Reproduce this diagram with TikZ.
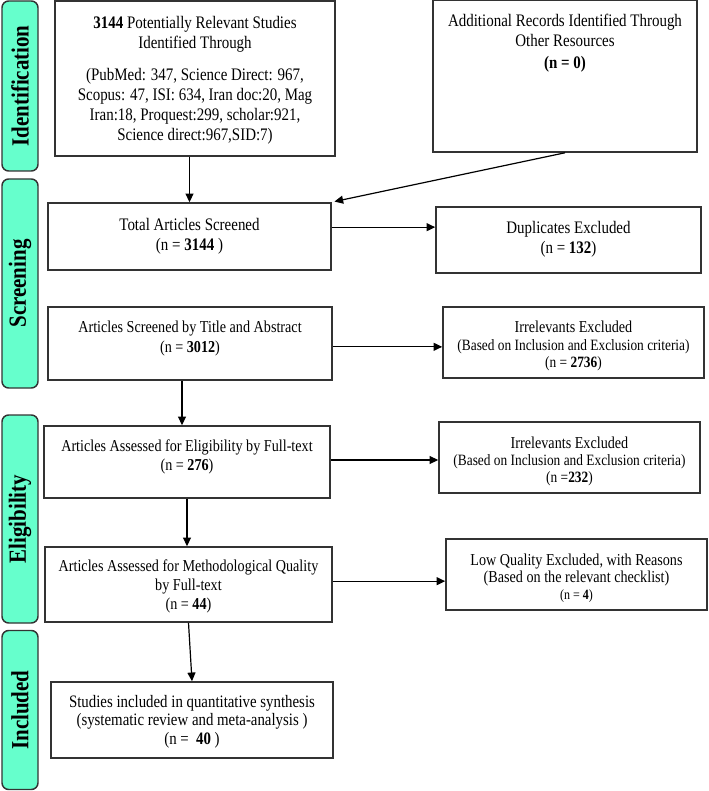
\documentclass[tikz,border=0pt]{standalone}
\usepackage{fontspec}
\setmainfont{Liberation Serif}[FakeStretch=0.85]
\usetikzlibrary{arrows.meta,calc}
\definecolor{tabfill}{HTML}{66FFCC}
\definecolor{edge}{HTML}{333333}
\begin{document}
\begin{tikzpicture}[x=0.75pt,y=-0.75pt,
  box/.style={draw=edge, line width=1.2pt, inner sep=0pt},
  txt/.style={align=center, inner sep=0pt},
  fA/.style={txt, font=\fontsize{13.2}{15}\selectfont},
  fT/.style={txt, font=\fontsize{12.5}{15}\selectfont},
  fB/.style={txt, font=\fontsize{12.5}{14}\selectfont},
  fC/.style={txt, font=\fontsize{11.8}{13}\selectfont},
  tab/.style={draw=edge, fill=tabfill, rounded corners=5pt, line width=1.1pt, inner sep=0pt,
              minimum width=27pt},
  tablabel/.style={rotate=90, font=\fontsize{18.5}{20}\selectfont\bfseries},
  arr/.style={draw=black, line width=0.9pt, -{Triangle[length=6.5pt,width=6pt]}}]
\useasboundingbox (0,0) rectangle (708,791);

% side tabs
\node[tab, minimum height=127.5pt] (tabI) at (20,86) {};
\node[tablabel] (labI) at (tabI.center) {Identification};
\node[tab, minimum height=156.75pt] (tabS) at (20,283.5) {};
\node[tablabel] (labS) at (tabS.center) {Screening};
\node[tab, minimum height=156pt] (tabE) at (20,519) {};
\node[tablabel] (labE) at (tabE.center) {Eligibility};
\node[tab, minimum height=119.25pt] (tabN) at (20,710) {};
\node[tablabel] (labN) at (tabN.center) {Included};

% boxes
\node[box, minimum width=210pt, minimum height=116.25pt,
  label={[fA, yshift=-1pt]center:{\textbf{3144} Potentially Relevant Studies\\Identified Through\\[9pt]
   (PubMed: 347, Science Direct: 967,\\Scopus: 47, ISI: 634, Iran doc:20, Mag\\
   Iran:18, Proquest:299, scholar:921,\\Science direct:967,SID:7)}}] (id) at (195,78.5) {};
\node[box, minimum width=198pt, minimum height=113.6pt,
  label={[fA, anchor=north, yshift=-10.5pt]north:{Additional Records Identified Through\\Other Resources\\[1.5pt]\textbf{(n = 0)}}}] (add) at (565,76.25) {};
\node[box, minimum width=212.25pt, minimum height=50.25pt,
  label={[fA, yshift=0pt]center:{Total Articles Screened\\(n = \textbf{3144} )}}] (tot) at (189.5,236.5) {};
\node[box, minimum width=198.75pt, minimum height=49.5pt,
  label={[fA, yshift=0.5pt]center:{Duplicates Excluded\\(n = \textbf{132})}}] (dup) at (568.5,240) {};
\node[box, minimum width=213pt, minimum height=54.75pt,
  label={[fT, yshift=3.75pt]center:{Articles Screened by Title and Abstract\\(n = \textbf{3012})}}] (title) at (190,343.5) {};
\node[box, minimum width=195.75pt, minimum height=53.25pt,
  label={[fC, yshift=-2.6pt]center:{{\fontsize{12.5}{13}\selectfont Irrelevants Excluded}\\(Based on Inclusion and Exclusion criteria)\\(n = \textbf{2736})}}] (irr1) at (573.5,342.5) {};
\node[box, minimum width=214.5pt, minimum height=54pt,
  label={[fB, yshift=3.75pt]center:{Articles Assessed for Eligibility by Full-text\\(n = \textbf{276})}}] (elig) at (187,462) {};
\node[box, minimum width=195.75pt, minimum height=53.25pt,
  label={[fC, yshift=-2.8pt]center:{{\fontsize{12.5}{13}\selectfont Irrelevants Excluded}\\(Based on Inclusion and Exclusion criteria)\\(n =\textbf{232})}}] (irr2) at (569.5,457.5) {};
\node[box, minimum width=215.25pt, minimum height=56.25pt,
  label={[fB, yshift=-1.5pt]center:{Articles Assessed for Methodological Quality\\by Full-text\\(n = \textbf{44})}}] (meth) at (188.5,584.5) {};
\node[box, minimum width=195.75pt, minimum height=53.25pt,
  label={[txt, font=\fontsize{12.5}{12.8}\selectfont, yshift=-2.5pt]center:{Low Quality Excluded, with Reasons\\(Based on the relevant checklist)\\{\fontsize{10.6}{11}\selectfont (n = \textbf{4})}}}] (low) at (576.5,574.5) {};
\node[box, minimum width=211.5pt, minimum height=57pt,
  label={[txt, font=\fontsize{13.1}{14}\selectfont, yshift=-1.2pt]center:{Studies included in quantitative synthesis\\(systematic review and meta-analysis )\\(n =\ \ \textbf{40} )}}] (incl) at (192,720) {};

% connectors
\draw[arr] (id.south -| tot.north) -- (tot.north);
\draw[arr] (add.south) -- ([xshift=2pt,yshift=0.5pt]tot.north east);
\draw[arr] ([yshift=7pt]tot.east) coordinate (c1) -- (c1 -| dup.west);
\draw[arr] ([yshift=-2.5pt]title.east) coordinate (c2) -- (c2 -| irr1.west);
\draw[arr] ([xshift=-6pt]title.south) coordinate (c3) -- (c3 |- elig.north);
\draw[arr] ([yshift=1.5pt]elig.east) coordinate (c4) -- (c4 -| irr2.west);
\draw[arr] (elig.south) -- (elig.south |- meth.north);
\draw[arr] ([yshift=2.5pt]meth.east) coordinate (c5) -- (c5 -| low.west);
\draw[arr] (meth.south) -- (incl.north);
\end{tikzpicture}
\end{document}
